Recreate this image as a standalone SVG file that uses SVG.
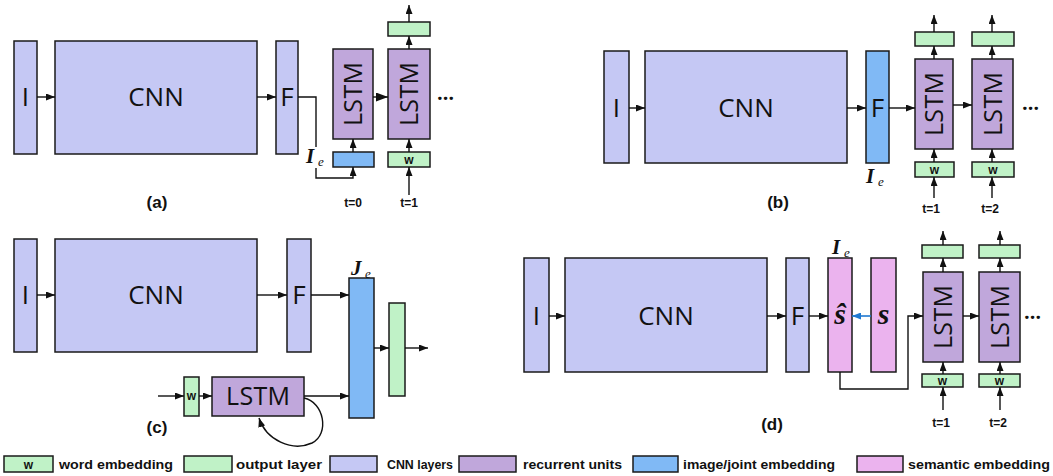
<svg xmlns="http://www.w3.org/2000/svg" width="1053" height="476" viewBox="0 0 1053 476">
  <style>
    .box { stroke: #1a1a1a; stroke-width: 1.5; }
    .cnn { fill: #C5C8F4; }
    .rnn { fill: #C0A7DB; }
    .grn { fill: #C0F2C7; }
    .emb { fill: #80B9F5; }
    .sem { fill: #EBB3EE; }
    .big { font-family: "Open Sans", "DejaVu Sans", sans-serif; font-size: 26px; fill: #111; text-anchor: middle; }
    .lstm { font-family: "Open Sans", "DejaVu Sans", sans-serif; font-size: 25px; fill: #111; text-anchor: middle; }
    .small { font-family: "Liberation Sans", Arial, sans-serif; font-weight: bold; font-size: 12px; fill: #111; text-anchor: middle; }
    .cap { font-family: "Liberation Sans", Arial, sans-serif; font-weight: bold; font-size: 17px; fill: #111; text-anchor: middle; }
    .leg { font-family: "Liberation Sans", Arial, sans-serif; font-weight: bold; font-size: 13px; fill: #111; }
    .math { font-family: "Liberation Serif", "Times New Roman", serif; font-style: italic; fill: #111; }
    .dots { font-family: "Open Sans", "DejaVu Sans", sans-serif; font-size: 20px; font-weight: bold; fill: #111; }
    .ln { stroke: #111; stroke-width: 1.4; fill: none; }
    .arr { marker-end: url(#ah); }
  </style>
  <defs>
    <marker id="ah" markerUnits="userSpaceOnUse" markerWidth="9" markerHeight="7" refX="9" refY="3.5" orient="auto">
      <path d="M0,0 L9,3.5 L0,7 z" fill="#111"/>
    </marker>
    <marker id="ahb" markerUnits="userSpaceOnUse" markerWidth="12" markerHeight="9" refX="12" refY="4.5" orient="auto">
      <path d="M0,0 L12,4.5 L0,9 z" fill="#111"/>
    </marker>
    <marker id="ahblue" markerUnits="userSpaceOnUse" markerWidth="9" markerHeight="7" refX="9" refY="3.5" orient="auto">
      <path d="M0,0 L9,3.5 L0,7 z" fill="#1F78D1"/>
    </marker>
  </defs>

  <!-- ===== Panel (a) ===== -->
  <g id="a-input"><rect class="box cnn" x="14" y="41" width="23" height="113"/><text class="big" x="25.5" y="106">I</text></g>
  <g id="a-cnn"><rect class="box cnn" x="55" y="41" width="202" height="113"/><text class="big" x="156" y="106">CNN</text></g>
  <g id="a-feat"><rect class="box cnn" x="276" y="41" width="22" height="113"/><text class="big" x="287" y="106">F</text></g>
  <g id="a-lstm0"><rect class="box rnn" x="333" y="49" width="40" height="90"/><text class="lstm" x="353" y="103" transform="rotate(-90 353 94)" textLength="64" lengthAdjust="spacing">LSTM</text></g>
  <g id="a-lstm1"><rect class="box rnn" x="388" y="49" width="42" height="90"/><text class="lstm" x="409" y="103" transform="rotate(-90 409 94)" textLength="64" lengthAdjust="spacing">LSTM</text></g>
  <g id="a-img-emb"><rect class="box emb" x="333" y="152" width="41" height="15"/></g>
  <g id="a-word"><rect class="box grn" x="388" y="152" width="42" height="15"/><text class="small" x="409" y="164">w</text></g>
  <g id="a-out"><rect class="box grn" x="388" y="22" width="42" height="14"/></g>
  <g id="a-labels">
    <text class="math" x="306" y="163" font-size="21" font-weight="bold">I</text><text class="math" x="318" y="166" font-size="13" fill="#444">e</text>
    <text class="dots" x="437" y="100">…</text>
    <text class="small" x="353" y="207">t=0</text>
    <text class="small" x="409" y="207">t=1</text>
    <text class="cap" x="157" y="208">(a)</text>
  </g>

  <!-- ===== Panel (b) ===== -->
  <g id="b-input"><rect class="box cnn" x="604" y="51" width="25" height="112"/><text class="big" x="616.5" y="117">I</text></g>
  <g id="b-cnn"><rect class="box cnn" x="645" y="51" width="202" height="112"/><text class="big" x="746" y="117">CNN</text></g>
  <g id="b-feat"><rect class="box emb" x="866" y="51" width="23" height="112"/><text class="big" x="877.5" y="117">F</text></g>
  <g id="b-lstm1"><rect class="box rnn" x="915" y="59" width="38" height="90"/><text class="lstm" x="934" y="113" transform="rotate(-90 934 104)" textLength="64" lengthAdjust="spacing">LSTM</text></g>
  <g id="b-lstm2"><rect class="box rnn" x="972" y="59" width="41" height="90"/><text class="lstm" x="992.5" y="113" transform="rotate(-90 992.5 104)" textLength="64" lengthAdjust="spacing">LSTM</text></g>
  <g id="b-out1"><rect class="box grn" x="915" y="32" width="39" height="14"/></g>
  <g id="b-out2"><rect class="box grn" x="972" y="32" width="42" height="14"/></g>
  <g id="b-word1"><rect class="box grn" x="915" y="162" width="39" height="15"/><text class="small" x="934.5" y="174">w</text></g>
  <g id="b-word2"><rect class="box grn" x="972" y="162" width="42" height="15"/><text class="small" x="993" y="174">w</text></g>
  <g id="b-labels">
    <text class="math" x="866" y="183" font-size="21" font-weight="bold">I</text><text class="math" x="878" y="186" font-size="13" fill="#444">e</text>
    <text class="dots" x="1022" y="110">…</text>
    <text class="small" x="931" y="213">t=1</text>
    <text class="small" x="990" y="213">t=2</text>
    <text class="cap" x="778" y="208">(b)</text>
  </g>

  <!-- ===== Panel (c) ===== -->
  <g id="c-input"><rect class="box cnn" x="14" y="239" width="23" height="113"/><text class="big" x="25.5" y="304">I</text></g>
  <g id="c-cnn"><rect class="box cnn" x="55" y="239" width="202" height="113"/><text class="big" x="156" y="304">CNN</text></g>
  <g id="c-feat"><rect class="box cnn" x="287" y="239" width="24" height="113"/><text class="big" x="299" y="304">F</text></g>
  <g id="c-joint"><rect class="box emb" x="349" y="278" width="25" height="140"/></g>
  <g id="c-out"><rect class="box grn" x="389" y="303" width="16" height="93"/></g>
  <g id="c-word"><rect class="box grn" x="184" y="377" width="15" height="39"/><text class="small" x="191.5" y="400" font-size="11">w</text></g>
  <g id="c-lstm"><rect class="box rnn" x="212" y="377" width="92" height="39"/><text class="lstm" x="258" y="405" textLength="64" lengthAdjust="spacing">LSTM</text></g>
  <g id="c-labels">
    <text class="math" x="351" y="275" font-size="21" font-weight="bold">J</text><text class="math" x="365" y="278" font-size="13" fill="#444">e</text>
    <text class="cap" x="157" y="433">(c)</text>
  </g>

  <!-- ===== Panel (d) ===== -->
  <g id="d-input"><rect class="box cnn" x="524" y="258" width="25" height="114"/><text class="big" x="536.5" y="325">I</text></g>
  <g id="d-cnn"><rect class="box cnn" x="565" y="258" width="202" height="114"/><text class="big" x="666" y="325">CNN</text></g>
  <g id="d-feat"><rect class="box cnn" x="786" y="258" width="23" height="114"/><text class="big" x="797.5" y="325">F</text></g>
  <g id="d-shat"><rect class="box sem" x="828" y="258" width="24" height="114"/><text class="math" x="840" y="324" font-size="30" font-weight="bold" text-anchor="middle">ŝ</text></g>
  <g id="d-s"><rect class="box sem" x="871" y="258" width="25" height="114"/><text class="math" x="883.5" y="324" font-size="30" font-weight="bold" text-anchor="middle">s</text></g>
  <g id="d-lstm1"><rect class="box rnn" x="923" y="272" width="40" height="90"/><text class="lstm" x="943" y="326" transform="rotate(-90 943 317)" textLength="64" lengthAdjust="spacing">LSTM</text></g>
  <g id="d-lstm2"><rect class="box rnn" x="979" y="272" width="41" height="90"/><text class="lstm" x="999.5" y="326" transform="rotate(-90 999.5 317)" textLength="64" lengthAdjust="spacing">LSTM</text></g>
  <g id="d-out1"><rect class="box grn" x="922" y="245" width="41" height="13"/></g>
  <g id="d-out2"><rect class="box grn" x="979" y="245" width="41" height="13"/></g>
  <g id="d-word1"><rect class="box grn" x="922" y="374" width="41" height="13"/><text class="small" x="942.5" y="385">w</text></g>
  <g id="d-word2"><rect class="box grn" x="979" y="374" width="41" height="13"/><text class="small" x="999.5" y="385">w</text></g>
  <g id="d-labels">
    <text class="math" x="832" y="254" font-size="21" font-weight="bold">I</text><text class="math" x="844" y="257" font-size="13" fill="#444">e</text>
    <text class="dots" x="1024" y="319">…</text>
    <text class="small" x="941" y="427">t=1</text>
    <text class="small" x="998" y="427">t=2</text>
    <text class="cap" x="772" y="430">(d)</text>
  </g>

  <!-- ===== Connectors ===== -->
  <g id="connectors">
    <!-- (a) -->
    <path class="ln arr" d="M37,97 H55"/>
    <path class="ln arr" d="M257,97 H276"/>
    <path class="ln" d="M298,97 H316 V147"/>
    <path class="ln arr" d="M316,168 V178 H353 V167"/>
    <path class="ln arr" d="M353,152 V139"/>
    <path class="ln arr" d="M409,152 V139"/>
    <path class="ln arr" d="M409,49 V36"/>
    <path class="ln arr" d="M409,22 V5"/>
    <path class="ln arr" d="M409,195 V167"/>
    <path class="ln" marker-end="url(#ahb)" d="M373,97 H388"/>
    <!-- (b) -->
    <path class="ln arr" d="M629,108 H645"/>
    <path class="ln arr" d="M847,108 H866"/>
    <path class="ln arr" d="M889,108 H915"/>
    <path class="ln arr" d="M953,105 H972"/>
    <path class="ln arr" d="M934,59 V46"/>
    <path class="ln arr" d="M934,32 V15"/>
    <path class="ln arr" d="M992,59 V46"/>
    <path class="ln arr" d="M992,32 V15"/>
    <path class="ln arr" d="M934,162 V149"/>
    <path class="ln arr" d="M992,162 V149"/>
    <path class="ln arr" d="M934,198 V177"/>
    <path class="ln arr" d="M992,198 V177"/>
    <!-- (c) -->
    <path class="ln arr" d="M37,295 H55"/>
    <path class="ln arr" d="M257,295 H287"/>
    <path class="ln arr" d="M311,295 H349"/>
    <path class="ln arr" d="M374,348 H389"/>
    <path class="ln arr" d="M405,348 H428"/>
    <path class="ln arr" d="M158,396 H184"/>
    <path class="ln arr" d="M199,396 H212"/>
    <path class="ln arr" d="M304,396 H349"/>
    <path class="ln arr" d="M304,398 C324,402 330,434 312,443 C292,452 266,440 259,418"/>
    <!-- (d) -->
    <path class="ln arr" d="M549,316 H565"/>
    <path class="ln arr" d="M767,316 H786"/>
    <path class="ln arr" d="M809,316 H828"/>
    <path stroke="#1F78D1" stroke-width="1.6" fill="none" marker-end="url(#ahblue)" d="M871,316 H852"/>
    <path class="ln arr" d="M840,372 V389 H908 V316 H923"/>
    <path class="ln arr" d="M963,316 H979"/>
    <path class="ln arr" d="M943,272 V258"/>
    <path class="ln arr" d="M943,245 V231"/>
    <path class="ln arr" d="M1000,272 V258"/>
    <path class="ln arr" d="M1000,245 V231"/>
    <path class="ln arr" d="M943,374 V362"/>
    <path class="ln arr" d="M1000,374 V362"/>
    <path class="ln arr" d="M943,410 V387"/>
    <path class="ln arr" d="M1000,410 V387"/>
  </g>

  <!-- ===== Legend ===== -->
  <g id="legend">
    <rect class="box grn" x="4" y="456" width="49" height="16"/><text class="small" x="28.5" y="468.5">w</text>
    <text class="leg" x="59" y="469" textLength="114" lengthAdjust="spacingAndGlyphs">word embedding</text>
    <rect class="box grn" x="184" y="456" width="48" height="16"/>
    <text class="leg" x="236" y="469" textLength="86" lengthAdjust="spacingAndGlyphs">output  layer</text>
    <rect class="box cnn" x="330" y="456" width="47" height="16"/>
    <text class="leg" x="387" y="469" textLength="66" lengthAdjust="spacingAndGlyphs">CNN layers</text>
    <rect class="box rnn" x="459" y="456" width="57" height="16"/>
    <text class="leg" x="523" y="469" textLength="99" lengthAdjust="spacingAndGlyphs">recurrent units</text>
    <rect class="box emb" x="633" y="456" width="45" height="16"/>
    <text class="leg" x="683" y="469" textLength="152" lengthAdjust="spacingAndGlyphs">image/joint  embedding</text>
    <rect class="box sem" x="857" y="456" width="46" height="16"/>
    <text class="leg" x="908" y="469" textLength="142" lengthAdjust="spacingAndGlyphs">semantic  embedding</text>
  </g>
</svg>
